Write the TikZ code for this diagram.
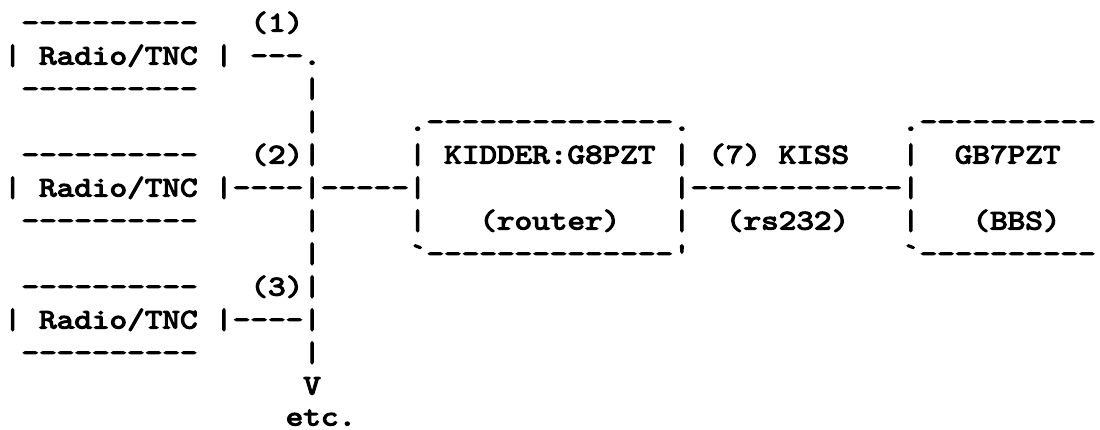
\documentclass[tikz,border=0pt]{standalone}

% heavy, slightly widened typewriter face: Latin Modern Mono, emboldened
\font\artfont="[lmmono10-regular]:embolden=4;extend=1.18" at 28.5pt

% one fixed-width cell per character, so the rows line up like a terminal
\newlength\cw \setlength\cw{17.61pt}
\newcommand\asciirow[1]{\rowloop#1\relax}
\def\rowloop#1{\ifx\relax#1\else\makebox[\cw]{#1}\expandafter\rowloop\fi}
\newcommand\tk{\char"0060\relax}
\newcommand\ap{\char"0027\relax}

\tikzset{
  art/.style={anchor=base west, inner sep=0pt, outer sep=0pt, font=\artfont}
}

\begin{document}
\begin{tikzpicture}[x=1pt,y=-1pt]
  \fill[white] (0,0) rectangle (1100,430);
  \useasboundingbox (0,0) rectangle (1100,430);

  % columns: x = 3.9 + 17.61*col ; rows: baseline y = 31.5 + 33*row
  \node[art] (row0)  at (21.51, 31.5)  {\asciirow{----------~~~(1)}};
  \node[art] (row1)  at (3.9,   64.5)  {\asciirow{|~Radio/TNC~|~---.}};
  \node[art] (row2)  at (21.51, 97.5)  {\asciirow{----------~~~~~~|}};
  \node[art] (row3)  at (303.27,130.5) {\asciirow{|~~~~~.--------------.~~~~~~~~~~~~.----------}};
  \node[art] (row4)  at (21.51, 163.5) {\asciirow{----------~~~(2)|~~~~~|~KIDDER:G8PZT~|~(7)~KISS~~~|~~GB7PZT}};
  \node[art] (row5)  at (3.9,   196.5) {\asciirow{|~Radio/TNC~|----|-----|~~~~~~~~~~~~~~|------------|}};
  \node[art] (row6)  at (21.51, 229.5) {\asciirow{----------~~~~~~|~~~~~|~~~(router)~~~|~~(rs232)~~~|~~~(BBS)}};
  \node[art] (row7)  at (303.27,262.5) {\asciirow{|~~~~~\tk--------------\ap~~~~~~~~~~~~\tk----------}};
  \node[art] (row8)  at (21.51, 295.5) {\asciirow{----------~~~(3)|}};
  \node[art] (row9)  at (3.9,   328.5) {\asciirow{|~Radio/TNC~|----|}};
  \node[art] (row10) at (21.51, 361.5) {\asciirow{----------~~~~~~|}};
  \node[art] (row11) at (303.27,394.5) {\asciirow{V}};
  \node[art] (row12) at (285.66,425.5) {\asciirow{etc.}};
\end{tikzpicture}
\end{document}
